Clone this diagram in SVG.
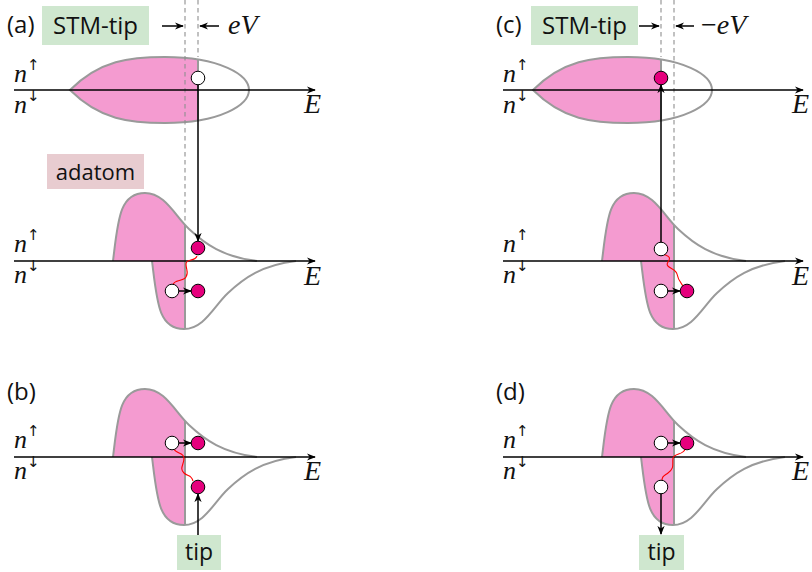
<svg xmlns="http://www.w3.org/2000/svg" width="812" height="572" viewBox="0 0 812 572">
<style>
.lbl{font-family:"Open Sans","DejaVu Sans",sans-serif;font-size:24px;fill:#111}
.math{font-family:"Liberation Serif","DejaVu Serif",serif;font-style:italic;font-size:28px;fill:#111}
.nl{font-family:"Liberation Serif","DejaVu Serif",serif;font-style:italic;font-size:26px;fill:#111}
.sup{font-family:"DejaVu Sans",sans-serif;font-style:normal;font-size:15px}
.out{fill:none;stroke:#9a9a9a;stroke-width:2}
.bnd{stroke:#9a9a9a;stroke-width:2}
.fill{fill:#F49BD0}
.axis{stroke:#000;stroke-width:1.6;fill:none}
.arr{stroke:#000;stroke-width:1.5;fill:none}
.dash{stroke:#8f8f8f;stroke-width:1.1;stroke-dasharray:4.5 3.5}
.wave{stroke:#f00;stroke-width:1.1;fill:none}
.e0{fill:#fff;stroke:#000;stroke-width:1}
.e1{fill:#E5007D;stroke:#000;stroke-width:1}
.tipbox{fill:#CFE7CF}
.adbox{fill:#E8CCD0}
</style>
<defs>
<marker id="ah" viewBox="0 0 10 10" refX="9" refY="5" markerWidth="9" markerHeight="9" markerUnits="userSpaceOnUse" orient="auto">
<path d="M0,1 L10,5 L0,9 L3,5 Z" fill="#000"/>
</marker>
<path id="lobe" d="M0,0 C5,-40 6,-68 32,-68 C52,-68 62,-45 76,-32 C92,-17 110,-4 144,0"/>
<clipPath id="lobeClip"><path d="M0,0 C5,-40 6,-68 32,-68 C52,-68 62,-45 76,-32 C92,-17 110,-4 144,0 Z"/></clipPath>
<path id="egg" d="M70,90 C100,60 130,57 165,57 C220,57 249,75 249,90 C249,105 220,123 165,123 C130,123 100,120 70,90 Z"/>
<clipPath id="eggClip"><path d="M70,90 C100,60 130,57 165,57 C220,57 249,75 249,90 C249,105 220,123 165,123 C130,123 100,120 70,90 Z"/></clipPath>
<g id="eggShape">
<rect class="fill" x="60" y="50" width="138" height="80" clip-path="url(#eggClip)"/>
<line class="bnd" x1="198" y1="50" x2="198" y2="130" clip-path="url(#eggClip)"/>
<use href="#egg" class="out"/>
</g>
<g id="upLobe">
<rect class="fill" x="-2" y="-80" width="74" height="80" clip-path="url(#lobeClip)"/>
<line class="bnd" x1="72" y1="0" x2="72" y2="-80" clip-path="url(#lobeClip)"/>
<use href="#lobe" class="out"/>
</g>
<g id="dnLobe">
<rect class="fill" x="-2" y="-80" width="35" height="80" clip-path="url(#lobeClip)"/>
<line class="bnd" x1="33" y1="0" x2="33" y2="-80" clip-path="url(#lobeClip)"/>
<use href="#lobe" class="out"/>
</g>
</defs>

<!-- Panel (a) -->
<g id="panel-a">
<g id="a-tip-dos">
<use href="#eggShape"/>
</g>
<g id="a-adatom-dos">
<use href="#upLobe" transform="translate(113,261)"/>
<use href="#dnLobe" transform="translate(152,261) scale(1,-1)"/>
</g>
</g>
<!-- Panel (b) -->
<g id="panel-b">
<use href="#upLobe" transform="translate(113,457)"/>
<use href="#dnLobe" transform="translate(152,457) scale(1,-1)"/>
</g>
<!-- Panel (c) -->
<g id="panel-c">
<g id="c-tip-dos"><use href="#eggShape" transform="translate(463,0)"/></g>
<g id="c-adatom-dos">
<use href="#upLobe" transform="translate(602,261)"/>
<use href="#dnLobe" transform="translate(641,261) scale(1,-1)"/>
</g>
</g>
<!-- Panel (d) -->
<g id="panel-d">
<use href="#upLobe" transform="translate(602,457)"/>
<use href="#dnLobe" transform="translate(641,457) scale(1,-1)"/>
</g>

<!-- dashed Fermi levels -->
<g id="dashed">
<line class="dash" x1="185" y1="0" x2="185" y2="224"/>
<line class="dash" x1="198" y1="0" x2="198" y2="57"/>
<line class="dash" x1="661" y1="0" x2="661" y2="57"/>
<line class="dash" x1="674" y1="0" x2="674" y2="224"/>
</g>

<!-- connectors -->
<g id="connectors">
<line class="axis" x1="14" y1="90" x2="315" y2="90" marker-end="url(#ah)"/>
<line class="axis" x1="14" y1="261" x2="315" y2="261" marker-end="url(#ah)"/>
<line class="axis" x1="14" y1="457" x2="315" y2="457" marker-end="url(#ah)"/>
<line class="axis" x1="503" y1="90" x2="803" y2="90" marker-end="url(#ah)"/>
<line class="axis" x1="503" y1="261" x2="803" y2="261" marker-end="url(#ah)"/>
<line class="axis" x1="503" y1="457" x2="803" y2="457" marker-end="url(#ah)"/>

<line class="arr" x1="162" y1="26" x2="183" y2="26" marker-end="url(#ah)"/>
<line class="arr" x1="219" y1="26" x2="200" y2="26" marker-end="url(#ah)"/>
<line class="arr" x1="639" y1="26" x2="659" y2="26" marker-end="url(#ah)"/>
<line class="arr" x1="694" y1="26" x2="676" y2="26" marker-end="url(#ah)"/>

<line class="arr" x1="198" y1="78" x2="198" y2="241" marker-end="url(#ah)"/>
<line class="arr" x1="172" y1="291" x2="191" y2="291" marker-end="url(#ah)"/>
<line class="arr" x1="172" y1="443" x2="191" y2="443" marker-end="url(#ah)"/>
<line class="arr" x1="198" y1="535" x2="198" y2="494" marker-end="url(#ah)"/>

<line class="arr" x1="661" y1="249" x2="661" y2="85" marker-end="url(#ah)"/>
<line class="arr" x1="661" y1="291" x2="680" y2="291" marker-end="url(#ah)"/>
<line class="arr" x1="661" y1="443" x2="680" y2="443" marker-end="url(#ah)"/>
<line class="arr" x1="661" y1="487" x2="661" y2="534" marker-end="url(#ah)"/>

<path class="wave" d="M197,256 C195,262 186,258 186,264 C186,270 189,272 186,277 C183,282 174,279 173,285"/>
<path class="wave" d="M174,449 C176,454 184,452 184,458 C184,465 179,468 184,473 C188,477 191,474 193,481"/>
<path class="wave" d="M663,254 C667,256 672,256 668,262 C664,268 676,268 677,274 C678,280 680,282 683,286"/>
<path class="wave" d="M685,449 C684,455 674,453 673,458 C672,464 675,468 668,473 C664,476 662,476 662,481"/>
</g>

<!-- electrons -->
<g id="electrons">
<circle class="e0" cx="198" cy="78" r="6.8"/>
<circle class="e1" cx="198" cy="248" r="6.8"/>
<circle class="e0" cx="172" cy="291" r="6.8"/>
<circle class="e1" cx="198" cy="291" r="6.8"/>
<circle class="e0" cx="172" cy="443" r="6.8"/>
<circle class="e1" cx="198" cy="443" r="6.8"/>
<circle class="e1" cx="198" cy="487" r="6.8"/>
<circle class="e1" cx="661" cy="78" r="6.8"/>
<circle class="e0" cx="661" cy="249" r="6.8"/>
<circle class="e0" cx="661" cy="291" r="6.8"/>
<circle class="e1" cx="687" cy="291" r="6.8"/>
<circle class="e0" cx="661" cy="443" r="6.8"/>
<circle class="e1" cx="687" cy="443" r="6.8"/>
<circle class="e0" cx="661" cy="487" r="6.8"/>
</g>

<!-- labels -->
<g id="stm-tip-a"><rect class="tipbox" x="42" y="6" width="107" height="39"/><text class="lbl" x="95.5" y="34" text-anchor="middle">STM-tip</text></g>
<g id="stm-tip-c"><rect class="tipbox" x="531" y="6" width="107" height="39"/><text class="lbl" x="584.5" y="34" text-anchor="middle">STM-tip</text></g>
<g id="adatom"><rect class="adbox" x="47" y="154" width="97" height="35"/><text class="lbl" x="95.5" y="180" text-anchor="middle" style="font-size:22px">adatom</text></g>
<g id="tip-b"><rect class="tipbox" x="177" y="535" width="44" height="35"/><text class="lbl" x="199" y="560" text-anchor="middle" style="font-size:23px">tip</text></g>
<g id="tip-d"><rect class="tipbox" x="639" y="535" width="45" height="35"/><text class="lbl" x="661.5" y="560" text-anchor="middle" style="font-size:23px">tip</text></g>

<g id="texts">
<text class="lbl" x="7" y="33">(a)</text>
<text class="lbl" x="7" y="400">(b)</text>
<text class="lbl" x="496" y="33">(c)</text>
<text class="lbl" x="496" y="400">(d)</text>
<text class="math" x="228" y="34">eV</text>
<text class="math" x="701" y="34"><tspan style="font-style:normal">−</tspan>eV</text>

<text class="nl" x="14" y="82">n<tspan class="sup" dy="-12">↑</tspan></text>
<text class="nl" x="14" y="113">n<tspan class="sup" dy="-12">↓</tspan></text>
<text class="nl" x="14" y="252">n<tspan class="sup" dy="-12">↑</tspan></text>
<text class="nl" x="14" y="283">n<tspan class="sup" dy="-12">↓</tspan></text>
<text class="nl" x="14" y="448">n<tspan class="sup" dy="-12">↑</tspan></text>
<text class="nl" x="14" y="479">n<tspan class="sup" dy="-12">↓</tspan></text>
<text class="nl" x="503" y="82">n<tspan class="sup" dy="-12">↑</tspan></text>
<text class="nl" x="503" y="113">n<tspan class="sup" dy="-12">↓</tspan></text>
<text class="nl" x="503" y="252">n<tspan class="sup" dy="-12">↑</tspan></text>
<text class="nl" x="503" y="283">n<tspan class="sup" dy="-12">↓</tspan></text>
<text class="nl" x="503" y="448">n<tspan class="sup" dy="-12">↑</tspan></text>
<text class="nl" x="503" y="479">n<tspan class="sup" dy="-12">↓</tspan></text>

<text class="math" x="304" y="113">E</text>
<text class="math" x="304" y="285">E</text>
<text class="math" x="304" y="480">E</text>
<text class="math" x="792" y="113">E</text>
<text class="math" x="792" y="285">E</text>
<text class="math" x="792" y="480">E</text>
</g>
</svg>
